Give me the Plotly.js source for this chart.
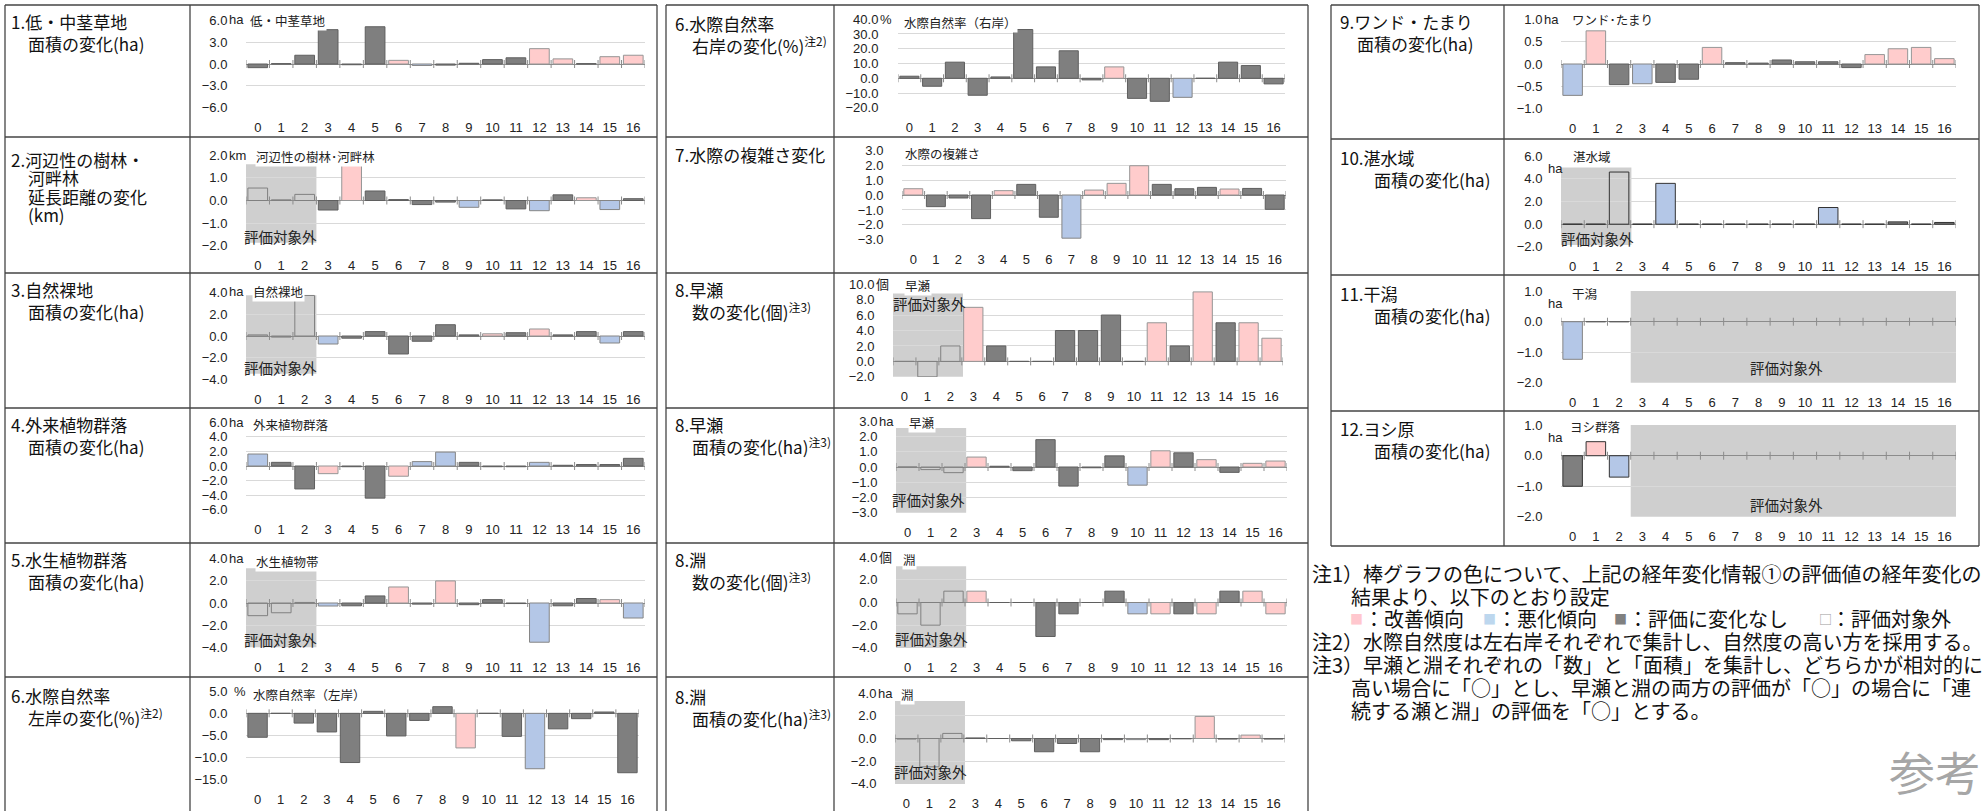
<!DOCTYPE html>
<html><head><meta charset="utf-8">
<script src="https://cdn.plot.ly/plotly-3.0.1.min.js"></script>
<style>html,body{margin:0;padding:0;background:#fff;overflow:hidden}#chart{width:1982px;height:811px}</style>
</head><body><div id="chart"></div>
<script>
// ---------- data ----------
const categories = [0,1,2,3,4,5,6,7,8,9,10,11,12,13,14,15,16];
const tickLabels = ['0','1','2','3','4','5','6','7','8','9','10','11','12','13','14','15','16'];
// status: I = 改善傾向, W = 悪化傾向, N = 評価に変化なし, X = 評価対象外
const p1Values = [-0.5,0.05,1.2,4.7,-0.1,5.1,0.5,-0.2,-0.15,0.1,0.6,0.85,2.1,0.7,0.05,1.0,1.2];
const p1Status = ['N','N','N','N','N','N','I','W','N','N','N','N','I','I','N','I','I'];
const p2Values = [0.55,0.03,0.27,-0.42,1.57,0.42,0.04,-0.18,-0.07,-0.3,0.03,-0.37,-0.45,0.25,0.12,-0.4,0.08];
const p2Status = ['X','X','X','N','I','N','N','N','N','W','N','N','W','N','I','W','N'];
const p3Values = [0.1,-0.1,3.7,-0.73,-0.2,0.4,-1.64,-0.48,1.03,0.1,0.2,0.3,0.64,0.1,0.4,-0.64,0.4];
const p3Status = ['X','X','X','W','N','N','N','N','N','N','I','N','I','N','N','W','N'];
const p4Values = [1.64,0.5,-3.14,-1.05,-0.1,-4.4,-1.4,0.6,1.9,0.5,-0.1,-0.1,0.5,0.1,0.2,0.2,1.05];
const p4Status = ['W','N','N','I','N','N','I','W','W','N','N','N','W','N','N','N','N'];
const p5Values = [-1.13,-0.87,0.05,-0.27,-0.25,0.63,1.43,-0.1,1.97,-0.15,0.3,-0.05,-3.5,-0.25,0.4,0.3,-1.34];
const p5Status = ['X','X','X','W','N','N','I','N','I','N','N','N','W','N','N','I','W'];
const p6LeftValues = [-5.4,0,-2.2,-4.2,-11.1,0.45,-5.1,-1.6,1.5,-7.8,0,-5.2,-12.5,-3.5,-1.2,0.3,-13.4];
const p6LeftStatus = ['N','N','N','N','N','N','N','N','N','I','N','N','W','N','N','N','N'];
const p6RightValues = [1.4,-5.4,10.9,-11.5,0.9,33,7.7,18.6,-1.1,7.7,-13.6,-15.6,-12.9,0,10.9,8.6,-3.8];
const p6RightStatus = ['N','N','N','N','N','N','N','N','N','I','N','N','W','N','N','N','N'];
const p7Values = [0.42,-0.78,-0.2,-1.58,0.29,0.71,-1.49,-2.89,0.33,0.78,1.96,0.71,0.42,0.51,0.4,0.44,-0.96];
const p7Status = ['I','N','N','N','I','N','N','W','I','I','I','N','N','N','I','N','N'];
const rifflesCountValues = [0,-2,2,7,2,0,0,4,4,6,0,5,2,9,5,5,3];
const rifflesCountStatus = ['X','X','X','I','N','N','N','N','N','N','N','I','N','I','N','I','I'];
const rifflesAreaValues = [0,-0.17,-0.37,0.65,0.05,-0.24,1.79,-1.25,-0.05,0.73,-1.19,1.06,0.93,0.48,-0.35,0.24,0.39];
const rifflesAreaStatus = ['X','X','X','I','N','N','N','N','N','N','W','I','N','I','N','I','I'];
const poolsCountValues = [-1,-2,1,1,0,0,-3,-1,0,1,-1,-1,-1,-1,1,1,-1];
const poolsCountStatus = ['X','X','X','I','N','N','N','N','N','N','W','I','N','I','N','I','I'];
const poolsAreaValues = [-0.05,-2.5,0.45,0.05,0,-0.2,-1.17,-0.44,-1.17,-0.1,-0.1,-0.1,-0.03,1.95,-0.05,0.3,-0.05];
const poolsAreaStatus = ['X','X','X','N','N','N','N','N','N','N','W','N','N','I','N','I','N'];
const p9Values = [-0.7,0.74,-0.46,-0.44,-0.41,-0.34,0.37,0.03,0.02,0.09,0.05,0.05,-0.08,0.21,0.34,0.37,0.12];
const p9Status = ['W','I','N','W','N','N','I','N','N','N','N','N','N','I','I','I','I'];
const p10Values = [0,0,4.6,0,3.6,0,0,0,0,0,0,1.47,0,0,0.2,0,0.15];
const p10Status = ['X','X','X','N','W','N','N','N','N','N','N','W','N','N','N','N','N'];
const p11Values = [-1.23,0,0,null,null,null,null,null,null,null,null,null,null,null,null,null,null];
const p11Status = ['W','N','N','X','X','X','X','X','X','X','X','X','X','X','X','X','X'];
const p12Values = [-1.0,0.46,-0.7,null,null,null,null,null,null,null,null,null,null,null,null,null,null];
const p12Status = ['N','I','W','X','X','X','X','X','X','X','X','X','X','X','X','X','X'];

// ---------- layout helpers ----------
const W = 1982, H = 811;
const fx = x => x / W;
const fy = y => 1 - y / H;
const JP = 'Noto Sans CJK JP, Noto Sans, sans-serif';
const NUM = 'Liberation Sans, Arial, Noto Sans CJK JP, sans-serif';
const FILL = {N:'#7f7f7f', I:'#ffcccc', W:'#b4c7e7', X:'rgba(0,0,0,0)'};
const EDGE = {N:'#5f5f5f', I:'#969696', W:'#858585', X:'#808080'};
const EXCL = '評価対象外';
const FW = '\u3000';
const COLX = {L:10, M:674, R:1339};   // label text x per column

const panels = [
 {v:p1Values, s:p1Status, title:'低・中茎草地', unit:'ha', range:[-6,6], dtick:3, g:[246,645,20,108], tp:[3,21],
  labels:[['1.低・中茎草地<br>'+FW+'面積の変化(ha)',COLX.L,20]]},
 {v:p2Values, s:p2Status, title:'河辺性の樹林･河畔林', unit:'km', range:[-2,2], dtick:1, g:[246,645,155,246], tp:[9,156],
  box:{x0:-0.65,x1:2.5,y0:-1.87,y1:1.6,tx:-0.62,ty:-1.6},
  labels:[['2.河辺性の樹林・',COLX.L,157],[FW+'河畔林',COLX.L,175.5],[FW+'延長距離の変化',COLX.L,194],[FW+'(km)',COLX.L,212.5]]},
 {v:p3Values, s:p3Status, title:'自然裸地', unit:'ha', range:[-4,4], dtick:2, g:[246,645,292,380], tp:[6,291],
  box:{x0:-0.65,x1:2.5,y0:-3.45,y1:3.73,tx:-0.62,ty:-2.9},
  labels:[['3.自然裸地<br>'+FW+'面積の変化(ha)',COLX.L,287]]},
 {v:p4Values, s:p4Status, title:'外来植物群落', unit:'ha', range:[-6,6], dtick:2, g:[246,645,422,510], tp:[6,425],
  labels:[['4.外来植物群落<br>'+FW+'面積の変化(ha)',COLX.L,422]]},
 {v:p5Values, s:p5Status, title:'水生植物帯', unit:'ha', range:[-4,4], dtick:2, g:[246,645,558,648], tp:[9,561],
  box:{x0:-0.65,x1:2.5,y0:-3.95,y1:3.1,tx:-0.62,ty:-3.3},
  labels:[['5.水生植物群落<br>'+FW+'面積の変化(ha)',COLX.L,557]]},
 {v:p6LeftValues, s:p6LeftStatus, title:'水際自然率（左岸）', unit:'%', unitGap:13, range:[-15,5], dtick:5, g:[246,639,691,780], tp:[6,694],
  labels:[['6.水際自然率<br>'+FW+'左岸の変化(%)<sup>注2)</sup>',COLX.L,693]]},
 {v:p6RightValues, s:p6RightStatus, title:'水際自然率（右岸）', unit:'%', range:[-20,40], dtick:10, g:[898,1285,19,108], tp:[5,22], yl:16,
  labels:[['6.水際自然率<br>'+FW+'右岸の変化(%)<sup>注2)</sup>',COLX.M,21]]},
 {v:p7Values, s:p7Status, title:'水際の複雑さ', unit:'', range:[-3,3], dtick:1, g:[902,1286,150,240], tp:[2,153],
  labels:[['7.水際の複雑さ変化',COLX.M,153]]},
 {v:rifflesCountValues, s:rifflesCountStatus, title:'早瀬', unit:'個', range:[-2,10], dtick:2, g:[893,1283,284,377], tp:[11,285],
  box:{x0:-0.6,x1:2.55,y0:-2,y1:8.8,tx:-0.55,ty:7.5},
  labels:[['8.早瀬<br>'+FW+'数の変化(個)<sup>注3)</sup>',COLX.M,287]]},
 {v:rifflesAreaValues, s:rifflesAreaStatus, title:'早瀬', unit:'ha', range:[-3,3], dtick:1, g:[896,1287,421,513], tp:[12,422],
  box:{x0:-0.55,x1:2.55,y0:-3,y1:2.55,tx:-0.7,ty:-2.15},
  labels:[['8.早瀬<br>'+FW+'面積の変化(ha)<sup>注3)</sup>',COLX.M,422]]},
 {v:poolsCountValues, s:poolsCountStatus, title:'淵', unit:'個', range:[-4,4], dtick:2, g:[896,1287,557,648], tp:[6,559],
  box:{x0:-0.55,x1:2.55,y0:-4.2,y1:3.2,tx:-0.6,ty:-3.2},
  labels:[['8.淵<br>'+FW+'数の変化(個)<sup>注3)</sup>',COLX.M,557]]},
 {v:poolsAreaValues, s:poolsAreaStatus, title:'淵', unit:'ha', range:[-4,4], dtick:2, g:[895,1285,693,784], tp:[5,694],
  box:{x0:-0.55,x1:2.55,y0:-4.05,y1:3.3,tx:-0.6,ty:-2.95},
  labels:[['8.淵<br>'+FW+'面積の変化(ha)<sup>注3)</sup>',COLX.M,694]]},
 {v:p9Values, s:p9Status, title:'ワンド･たまり', unit:'ha', range:[-1,1], dtick:0.5, g:[1561,1956,19,109], tp:[10,20],
  labels:[['9.ワンド・たまり<br>'+FW+'面積の変化(ha)',COLX.R,20]]},
 {v:p10Values, s:p10Status, title:'湛水域', unit:'ha', unitBelow:true, range:[-2,6], dtick:2, g:[1561,1956,156,247], tp:[11,157], edge:'#333333',
  box:{x0:-0.55,x1:2.53,y0:-1.85,y1:5.0,tx:-0.55,ty:-1.25},
  labels:[['10.湛水域<br>'+FW+FW+'面積の変化(ha)',COLX.R,155]]},
 {v:p11Values, s:p11Status, title:'干潟', unit:'ha', unitBelow:true, range:[-2,1], dtick:1, g:[1561,1956,291,383], tp:[10,293],
  box:{x0:2.5,x1:16.5,y0:-2,y1:1.13,tx:9.2,ty:-1.5,center:true},
  labels:[['11.干潟<br>'+FW+FW+'面積の変化(ha)',COLX.R,291]]},
 {v:p12Values, s:p12Status, title:'ヨシ群落', unit:'ha', unitBelow:true, range:[-2,1], dtick:1, g:[1561,1956,425,517], tp:[8,426], edge:'#333333',
  box:{x0:2.5,x1:16.55,y0:-2,y1:1.1,tx:9.2,ty:-1.6,center:true},
  labels:[['12.ヨシ原<br>'+FW+FW+'面積の変化(ha)',COLX.R,426]]}
];

const traces = [], shapes = [], annotations = [];
const layout = {
  width: W, height: H, margin:{l:0,r:0,t:0,b:0}, autosize:false,
  paper_bgcolor:'#ffffff', plot_bgcolor:'rgba(0,0,0,0)',
  bargap:0.16, showlegend:false, font:{family:NUM, size:13, color:'#222'}
};

const bounds = categories.concat([categories.length]).map(c => c - 0.5);
const LABEL_FS = 17;
const XMIN = -0.5, XMAX = 16.5;

panels.forEach((p, i) => {
  const k = i + 1;
  const xa = k === 1 ? 'x' : 'x' + k, ya = k === 1 ? 'y' : 'y' + k;
  const [L, R, T, B] = p.g;
  const eps = (p.range[1] - p.range[0]) * 0.002;
  const yl = p.yl || 15;
  layout[k === 1 ? 'xaxis' : 'xaxis' + k] = {
    domain:[fx(L), fx(R)], range:[XMIN, XMAX], anchor:ya,
    tickmode:'array', tickvals:categories, ticktext:tickLabels,
    showgrid:false, zeroline:false, showline:false,
    ticks:'outside', ticklen:7, tickcolor:'rgba(0,0,0,0)',
    tickfont:{family:NUM, size:13, color:'#222'}, fixedrange:true
  };
  layout[k === 1 ? 'yaxis' : 'yaxis' + k] = {
    domain:[fy(B), fy(T)], range:[p.range[0] - eps, p.range[1] + eps], anchor:xa,
    tick0:0, dtick:p.dtick, tickformat:'.1f',
    showgrid:true, gridcolor:'#d9d9d9', gridwidth:1,
    zeroline:true, zerolinecolor:'#8c8c8c', zerolinewidth:1, showline:false,
    ticks:'outside', ticklen:yl, tickcolor:'rgba(0,0,0,0)',
    tickfont:{family:NUM, size:13, color:'#222'}, fixedrange:true
  };
  traces.push({
    type:'bar', x:categories, y:p.v, xaxis:xa, yaxis:ya,
    marker:{color:p.s.map(s => FILL[s]), line:{color:p.s.map(s => p.edge || EDGE[s]), width:1}},
    hoverinfo:'skip', showlegend:false
  });
  if (p.box) {
    shapes.push({type:'rect', xref:xa, yref:ya, x0:p.box.x0, x1:p.box.x1, y0:p.box.y0, y1:p.box.y1,
      fillcolor:'#cfcfcf', line:{width:0}, layer:'below'});
    // keep the anchor inside the axis range (Plotly hides off-range annotations); shift by pixels instead
    const ax = Math.max(p.box.tx, XMIN + 0.001);
    const shift = (p.box.tx - ax) * (R - L) / (XMAX - XMIN);
    annotations.push({xref:xa, yref:ya, x:ax, y:p.box.ty, xshift:shift, text:EXCL, showarrow:false,
      xanchor:p.box.center ? 'center' : 'left', yanchor:'middle', borderpad:0, font:{family:JP, size:14.5, color:'#222'}});
  }
  bounds.forEach(b => shapes.push({type:'line', xref:xa, yref:ya, x0:b, x1:b,
    ysizemode:'pixel', yanchor:0, y0:-4, y1:4, line:{color:'#8c8c8c', width:1}, layer:'above'}));
  annotations.push({xref:'paper', yref:'paper', x:fx(L + p.tp[0]), y:fy(p.tp[1]), text:p.title, showarrow:false,
    xanchor:'left', yanchor:'middle', bgcolor:'#ffffff', borderpad:0, font:{family:JP, size:12.5, color:'#222'}});
  if (p.unit) {
    const ux = p.unitBelow ? L - 14 : L - (p.unitGap || (yl + 3));
    const uy = p.unitBelow ? T + 12 : T;
    annotations.push({xref:'paper', yref:'paper', x:fx(ux), y:fy(uy), text:p.unit, showarrow:false,
      xanchor:'left', yanchor:'middle', borderpad:0, font:{family:NUM, size:13, color:'#222'}});
  }
  p.labels.forEach(([t, x, y]) => annotations.push({xref:'paper', yref:'paper', x:fx(x), y:fy(y - 11.5), text:t,
    showarrow:false, xanchor:'left', yanchor:'top', align:'left', borderpad:0, font:{family:JP, size:LABEL_FS, color:'#111'}}));
});

// ---------- table borders ----------
const BORDER = {color:'#444444', width:1.3};
const hline = (x0, x1, y) => shapes.push({type:'line', xref:'paper', yref:'paper', x0:fx(x0), x1:fx(x1), y0:fy(y), y1:fy(y), line:BORDER, layer:'above'});
const vline = (x, y0, y1) => shapes.push({type:'line', xref:'paper', yref:'paper', x0:fx(x), x1:fx(x), y0:fy(y0), y1:fy(y1), line:BORDER, layer:'above'});
[[5,190,657],[666,834,1308]].forEach(([a, d, b]) => {
  [5,137,273,408,543,677].forEach(y => hline(a, b, y));
  [a, d, b].forEach(x => vline(x, 5, 811));
});
[5,139,275,411,546].forEach(y => hline(1331, 1979, y));
[1331,1504,1979].forEach(x => vline(x, 5, 546));

// ---------- notes ----------
const NOTE = {family:JP, size:20, color:'#111'};
const notes = [
  [1311,573,'注1）棒グラフの色について、上記の経年変化情報①の評価値の経年変化の'],
  [1350,596,'結果より、以下のとおり設定'],
  [1311,641,'注2）水際自然度は左右岸それぞれで集計し、自然度の高い方を採用する。'],
  [1311,664,'注3）早瀬と淵それぞれの「数」と「面積」を集計し、どちらかが相対的に'],
  [1350,687,'高い場合に「○」とし、早瀬と淵の両方の評価が「○」の場合に「連'],
  [1350,710,'続する瀬と淵」の評価を「○」とする。']
];
notes.forEach(([x, y, t]) => annotations.push({xref:'paper', yref:'paper', x:fx(x), y:fy(y), text:t, showarrow:false,
  xanchor:'left', yanchor:'middle', borderpad:0, font:NOTE}));
const legendItems = [
  [1349,'■','#ffc7ce',13],[1363,'：改善傾向','#111',20],
  [1482,'■','#bdd7ee',13],[1496,'：悪化傾向','#111',20],
  [1613,'■','#808080',13],[1627,'：評価に変化なし','#111',20],
  [1818,'□','#9a9a9a',13],[1830,'：評価対象外','#111',20]
];
legendItems.forEach(([x, t, c, s]) => annotations.push({xref:'paper', yref:'paper', x:fx(x), y:fy(618), text:t, showarrow:false,
  xanchor:'left', yanchor:'middle', borderpad:0, font:{family:JP, size:s, color:c}}));
annotations.push({xref:'paper', yref:'paper', x:fx(1888), y:fy(770), text:'参考', showarrow:false,
  xanchor:'left', yanchor:'middle', borderpad:0, font:{family:JP, size:46, color:'#a6a6a6'}});

layout.shapes = shapes;
layout.annotations = annotations;
Plotly.newPlot('chart', traces, layout, {staticPlot:true, displayModeBar:false});
</script>
</body></html>
